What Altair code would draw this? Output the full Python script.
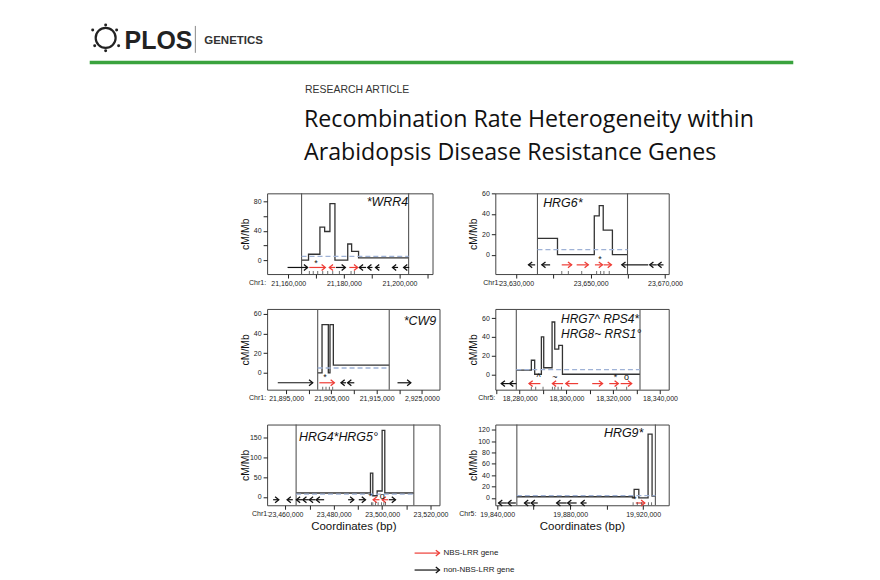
import altair as alt
import pandas as pd

FONT = "Liberation Sans"
TITLE_FONT = "Open Sans"
RED = "#ee3d36"
BLACK = "#111111"

# ---------------- data ----------------
# Panel 1 : *WRR4 (Chr1)
P1_STEP_BP = [21164800, 21167300, 21171400, 21173100, 21175000, 21176800, 21181400, 21182800, 21185300, 21203300]
P1_STEP_CM = [0, 8, 45, 39, 77, 0, 22, 12, 3, 3]
P1_MEAN = 5
P1_REGION = [21164800, 21203300]
P1_GENE_START = [21159760, 21167570, 21174770, 21177170, 21181980, 21185580, 21188600, 21191400, 21197500, 21201500]
P1_GENE_END = [21166970, 21173330, 21176930, 21180540, 21184980, 21188000, 21190300, 21192900, 21199500, 21203500]
P1_GENE_STRAND = ["+", "+", "-", "+", "+", "-", "-", "-", "-", "-"]
P1_GENE_TYPE = ["other", "NBS", "NBS", "other", "NBS", "other", "other", "other", "other", "other"]
P1_MARK_BP = [21169970]
P1_MARK_SYM = ["*"]
P1_MARKERS = [21167600, 21169000, 21170600, 21172400, 21174200, 21176000, 21178400, 21182600, 21183800]
P1_XTICKS = [21160000, 21170000, 21180000, 21190000, 21200000, 21210000]
P1_XLABELS = {21160000: "21,160,000", 21180000: "21,180,000", 21200000: "21,200,000"}
P1_YTICKS = [0, 20, 40, 60, 80]
P1_YLABELS = {0: "0", 40: "40", 80: "80"}

# Panel 2 : HRG6* (Chr1)
P2_STEP_BP = [23635730, 23641110, 23651000, 23652330, 23653400, 23655870, 23659930]
P2_STEP_CM = [16, 0, 38, 48, 24, 0, 0]
P2_MEAN = 5
P2_REGION = [23635730, 23659930]
P2_GENE_START = [23633320, 23636900, 23642250, 23646260, 23651170, 23653500, 23658400, 23665900, 23668100]
P2_GENE_END = [23635110, 23639130, 23644920, 23649390, 23653200, 23655600, 23665500, 23667800, 23669600]
P2_GENE_STRAND = ["-", "-", "+", "+", "+", "+", "-", "-", "-"]
P2_GENE_TYPE = ["other", "other", "NBS", "NBS", "NBS", "NBS", "other", "other", "other"]
P2_MARK_BP = [23652500]
P2_MARK_SYM = ["*"]
P2_MARKERS = [23642260, 23644030, 23647620, 23651630, 23652700, 23653590, 23655020]
P2_XTICKS = [23630000, 23640000, 23650000, 23660000, 23670000]
P2_XLABELS = {23630000: "23,630,000", 23650000: "23,650,000", 23670000: "23,670,000"}
P2_YTICKS = [0, 20, 40, 60]
P2_YLABELS = {0: "0", 20: "20", 40: "40", 60: "60"}

# Panel 3 : *CW9 (Chr1)
P3_STEP_BP = [21901980, 21902940, 21904330, 21904700, 21905440, 21917790]
P3_STEP_CM = [0, 49, 0, 49, 8, 8]
P3_MEAN = 5
P3_REGION = [21901980, 21917790]
P3_GENE_START = [21893160, 21902350, 21907130, 21908600, 21919620]
P3_GENE_END = [21900880, 21905660, 21908230, 21910070, 21922560]
P3_GENE_STRAND = ["+", "+", "-", "-", "+"]
P3_GENE_TYPE = ["other", "NBS", "other", "other", "other"]
P3_MARK_BP = [21903600]
P3_MARK_SYM = ["*"]
P3_MARKERS = [21903090, 21903820, 21904560, 21905290]
P3_XTICKS = [21895000, 21900000, 21905000, 21910000, 21915000, 21920000, 21925000]
P3_XLABELS = {21895000: "21,895,000", 21905000: "21,905,000", 21915000: "21,915,000", 21925000: "2,925,0000"}
P3_YTICKS = [0, 20, 40, 60]
P3_YLABELS = {0: "0", 20: "20", 40: "40", 60: "60"}

# Panel 4 : HRG7^ RPS4* HRG8~ RRS1° (Chr5)
P4_STEP_BP = [18278570, 18285000, 18286430, 18289290, 18290290, 18293860, 18295000, 18296710, 18298290, 18331430]
P4_STEP_CM = [4.5, 15, 0, 40, 7, 56, 27, 31, 0, 0]
P4_MEAN = 5
P4_REGION = [18278570, 18331430]
P4_GENE_START = [18272140, 18275710, 18284000, 18294000, 18299720, 18311010, 18318300, 18323160]
P4_GENE_END = [18275430, 18278570, 18288860, 18298570, 18305000, 18315440, 18322160, 18327870]
P4_GENE_STRAND = ["-", "-", "-", "-", "-", "+", "+", "+"]
P4_GENE_TYPE = ["other", "other", "NBS", "NBS", "NBS", "NBS", "NBS", "NBS"]
P4_MARK_BP = [18288140, 18295000, 18321000, 18325700]
P4_MARK_SYM = ["^", "~", "*", "o"]
P4_MARKERS = [18285000, 18286860, 18290000, 18294000, 18295000, 18296430, 18297860, 18321440, 18325730]
P4_XTICKS = [18270000, 18280000, 18290000, 18300000, 18310000, 18320000, 18330000, 18340000]
P4_XLABELS = {18280000: "18,280,000", 18300000: "18,300,000", 18320000: "18,320,000", 18340000: "18,340,000"}
P4_YTICKS = [0, 20, 40, 60]
P4_YLABELS = {0: "0", 20: "20", 40: "40", 60: "60"}

# Panel 5 : HRG4* HRG5° (Chr1)
P5_STEP_BP = [23464410, 23495170, 23496130, 23497920, 23499990, 23501090, 23513100]
P5_STEP_CM = [10, 60, 3, 15, 168, 10, 10]
P5_MEAN = 7
P5_REGION = [23464410, 23513100]
P5_GENE_START = [23454900, 23460690, 23464550, 23467170, 23469900, 23472700, 23485930, 23490340, 23496270, 23499990, 23502750]
P5_GENE_END = [23457240, 23463030, 23466900, 23469650, 23472400, 23476000, 23488270, 23493100, 23498890, 23502470, 23505510]
P5_GENE_STRAND = ["+", "-", "-", "-", "-", "-", "+", "+", "-", "-", "+"]
P5_GENE_TYPE = ["other", "other", "other", "other", "other", "other", "other", "other", "NBS", "NBS", "other"]
P5_MARK_BP = [23495170, 23499990]
P5_MARK_SYM = ["*", "o"]
P5_MARKERS = [23495580, 23496130, 23497230, 23498340, 23499720, 23500680, 23501370]
P5_XTICKS = [23460000, 23470000, 23480000, 23490000, 23500000, 23510000, 23520000]
P5_XLABELS = {23460000: "23,460,000", 23480000: "23,480,000", 23500000: "23,500,000", 23520000: "23,520,000"}
P5_YTICKS = [0, 50, 100, 150]
P5_YLABELS = {0: "0", 50: "50", 100: "100", 150: "150"}

# Panel 6 : HRG9* (Chr5)
P6_STEP_BP = [19850800, 19914130, 19915060, 19917620, 19922700, 19924890, 19926700]
P6_STEP_CM = [2, 0, 15, 0, 112, 3, 3]
P6_MEAN = 4
P6_REGION = [19850800, 19926700]
P6_GENE_START = [19840800, 19845880, 19855000, 19858660, 19872630, 19878640, 19885960, 19915990]
P6_GENE_END = [19845330, 19850250, 19858110, 19862260, 19878090, 19883550, 19889010, 19920900]
P6_GENE_STRAND = ["-", "-", "-", "-", "-", "-", "-", "+"]
P6_GENE_TYPE = ["other", "other", "other", "other", "other", "other", "other", "NBS"]
P6_MARK_BP = [19915440]
P6_MARK_SYM = ["*"]
P6_MARKERS = [19914500, 19916800, 19919200, 19922900, 19924600]
P6_XTICKS = [19840000, 19860000, 19880000, 19900000, 19920000]
P6_XLABELS = {19840000: "19,840,000", 19880000: "19,880,000", 19920000: "19,920,000"}
P6_YTICKS = [0, 20, 40, 60, 80, 100, 120]
P6_YLABELS = {0: "0", 20: "20", 40: "40", 60: "60", 80: "80", 100: "100", 120: "120"}

LEGEND_LABELS = ["NBS-LRR gene", "non-NBS-LRR gene"]

# ---------------- layout / style ----------------
LAYOUT = [
    dict(xdom=[21152400, 21211900], ydom=[-19, 91], gy=-10, my=-3.5, chr="Chr1:", chr_dx=-1,
         labels=[("*WRR4", 100, 9)], fs=12.5, xtitle=None, w=166, h=81),
    dict(xdom=[23624400, 23671000], ydom=[-19, 60], gy=-10, my=-4, chr="Chr1:", chr_dx=5,
         labels=[("HRG6*", 48, 10)], fs=12.5, xtitle=None, w=174, h=81),
    dict(xdom=[21890800, 21928900], ydom=[-17, 65], gy=-10, my=-4, chr="Chr1:", chr_dx=-1,
         labels=[("*CW9", 137, 12)], fs=12.5, xtitle=None, w=173, h=81),
    dict(xdom=[18269600, 18343700], ydom=[-16.5, 70], gy=-10, my=-3, chr="Chr5:", chr_dx=0,
         labels=[("HRG7^ RPS4*", 66, 10), ("HRG8~ RRS1°", 66, 25)], fs=12, xtitle=None, w=174, h=81),
    dict(xdom=[23452410, 23523720], ydom=[-21, 183], gy=-7, my=2, chr="Chr1:", chr_dx=2,
         labels=[("HRG4*HRG5°", 32, 13)], fs=12.5, xtitle="Coordinates (bp)", w=173, h=81),
    dict(xdom=[19839000, 19934000], ydom=[-13, 129], gy=-9, my=-2, chr="Chr5:", chr_dx=-19,
         labels=[("HRG9*", 109, 8)], fs=12.5, xtitle="Coordinates (bp)", w=174, h=81),
]

DATA = [
    dict(step_bp=P1_STEP_BP, step_cm=P1_STEP_CM, mean=P1_MEAN, region=P1_REGION, gs=P1_GENE_START, ge=P1_GENE_END,
         gst=P1_GENE_STRAND, gt=P1_GENE_TYPE, mbp=P1_MARK_BP, msym=P1_MARK_SYM, rug=P1_MARKERS,
         xt=P1_XTICKS, xl=P1_XLABELS, yt=P1_YTICKS, yl=P1_YLABELS),
    dict(step_bp=P2_STEP_BP, step_cm=P2_STEP_CM, mean=P2_MEAN, region=P2_REGION, gs=P2_GENE_START, ge=P2_GENE_END,
         gst=P2_GENE_STRAND, gt=P2_GENE_TYPE, mbp=P2_MARK_BP, msym=P2_MARK_SYM, rug=P2_MARKERS,
         xt=P2_XTICKS, xl=P2_XLABELS, yt=P2_YTICKS, yl=P2_YLABELS),
    dict(step_bp=P3_STEP_BP, step_cm=P3_STEP_CM, mean=P3_MEAN, region=P3_REGION, gs=P3_GENE_START, ge=P3_GENE_END,
         gst=P3_GENE_STRAND, gt=P3_GENE_TYPE, mbp=P3_MARK_BP, msym=P3_MARK_SYM, rug=P3_MARKERS,
         xt=P3_XTICKS, xl=P3_XLABELS, yt=P3_YTICKS, yl=P3_YLABELS),
    dict(step_bp=P4_STEP_BP, step_cm=P4_STEP_CM, mean=P4_MEAN, region=P4_REGION, gs=P4_GENE_START, ge=P4_GENE_END,
         gst=P4_GENE_STRAND, gt=P4_GENE_TYPE, mbp=P4_MARK_BP, msym=P4_MARK_SYM, rug=P4_MARKERS,
         xt=P4_XTICKS, xl=P4_XLABELS, yt=P4_YTICKS, yl=P4_YLABELS),
    dict(step_bp=P5_STEP_BP, step_cm=P5_STEP_CM, mean=P5_MEAN, region=P5_REGION, gs=P5_GENE_START, ge=P5_GENE_END,
         gst=P5_GENE_STRAND, gt=P5_GENE_TYPE, mbp=P5_MARK_BP, msym=P5_MARK_SYM, rug=P5_MARKERS,
         xt=P5_XTICKS, xl=P5_XLABELS, yt=P5_YTICKS, yl=P5_YLABELS),
    dict(step_bp=P6_STEP_BP, step_cm=P6_STEP_CM, mean=P6_MEAN, region=P6_REGION, gs=P6_GENE_START, ge=P6_GENE_END,
         gst=P6_GENE_STRAND, gt=P6_GENE_TYPE, mbp=P6_MARK_BP, msym=P6_MARK_SYM, rug=P6_MARKERS,
         xt=P6_XTICKS, xl=P6_XLABELS, yt=P6_YTICKS, yl=P6_YLABELS),
]

RIGHT_HEAD = "M-1,-0.8L0,0L-1,0.8"
LEFT_HEAD = "M1,-0.8L0,0L1,0.8"
COLOR = alt.Color("type:N", scale=alt.Scale(domain=["NBS", "other"], range=[RED, BLACK]), legend=None)
SHAPE = alt.Shape("strand:N", scale=alt.Scale(domain=["+", "-"], range=[RIGHT_HEAD, LEFT_HEAD]), legend=None)
NOSTROKE = alt.ViewBackground(strokeWidth=0)


def label_expr(d):
    e = "''"
    for v, t in d.items():
        e = f"datum.value == {v} ? '{t}' : ({e})"
    return e


def one(**kw):
    return pd.DataFrame({k: [v] for k, v in kw.items()})


def build_panel(d, L):
    W, H = L["w"], L["h"]
    xs = alt.Scale(domain=L["xdom"], nice=False, zero=False)
    ys = alt.Scale(domain=L["ydom"], nice=False, zero=False)
    xaxis = alt.Axis(values=d["xt"], labelExpr=label_expr(d["xl"]), tickSize=4, labelPadding=1,
                     labelFontSize=7, domain=False, grid=False, labelFlush=False, labelOverlap=False,
                     tickColor="#222", labelColor="#222", titleFontSize=11.5, titleFontWeight="normal",
                     titlePadding=3, titleColor="#111")
    yaxis = alt.Axis(values=d["yt"], labelExpr=label_expr(d["yl"]), tickSize=4, labelPadding=2,
                     labelFontSize=7, domain=False, grid=False, labelFlush=False, labelOverlap=False,
                     tickColor="#222", labelColor="#222", titleFontSize=10.5, titleFontWeight="normal",
                     titleColor="#111", titleX=-22, titleY=H / 2, titleBaseline="middle", titleAlign="center")
    X = alt.X("x:Q", scale=xs, axis=xaxis, title=L["xtitle"])
    Y = alt.Y("y:Q", scale=ys, axis=yaxis, title="cM/Mb")

    steps = pd.DataFrame({"x": d["step_bp"], "y": d["step_cm"]})
    bounds = pd.DataFrame({"x": d["region"]})
    mean = one(x=d["region"][0], x2=d["region"][1], y=d["mean"])
    genes = pd.DataFrame({"x": d["gs"], "x2": d["ge"], "strand": d["gst"], "type": d["gt"]})
    genes["y"] = L["gy"]
    heads = pd.DataFrame({"x": [e if s == "+" else b for b, e, s in zip(d["gs"], d["ge"], d["gst"])],
                          "strand": d["gst"], "type": d["gt"]})
    heads["y"] = L["gy"]
    marks = pd.DataFrame({"x": d["mbp"], "t": d["msym"]})
    marks["y"] = L["my"]
    rug = pd.DataFrame({"x": d["rug"]})

    layers = [
        alt.Chart(steps).mark_line(interpolate="step-after", color="#333", strokeWidth=1.3).encode(x=X, y=Y),
        alt.Chart(bounds).mark_rule(color="#555", strokeWidth=1.1).encode(x=X),
        alt.Chart(mean).mark_rule(strokeDash=[5, 3], color="#9fb2d6", strokeWidth=1.3).encode(x=X, x2="x2:Q", y=Y),
        alt.Chart(genes).mark_rule(strokeWidth=1.2).encode(x=X, x2="x2:Q", y=Y, color=COLOR),
        alt.Chart(heads).mark_point(size=55, strokeWidth=1.3, opacity=1, filled=False).encode(
            x=X, y=Y, color=COLOR, shape=SHAPE),
        alt.Chart(marks).mark_text(fontSize=9, color="#111", baseline="middle").encode(x=X, y=Y, text="t:N"),
        alt.Chart(rug).mark_tick(orient="vertical", size=3, thickness=1, color="#333").encode(
            x=X, y=alt.value(H - 1.5)),
        alt.Chart(one(t=L["chr"])).mark_text(align="right", baseline="top", fontSize=7, color="#222").encode(
            x=alt.value(L["chr_dx"]), y=alt.value(H + 4.5), text="t:N"),
    ]
    for (txt, px, py) in L["labels"]:
        layers.append(alt.Chart(one(t=txt)).mark_text(align="left", baseline="middle", fontSize=L["fs"],
                                                      fontStyle="italic", color="#111").encode(
            x=alt.value(px), y=alt.value(py), text="t:N"))
    return alt.layer(*layers).properties(width=W, height=H,
                                         view=alt.ViewBackground(stroke="#444", strokeWidth=1))


def vtext(text, x, y, size, font=FONT, weight="normal", color="#111", align="left", baseline="middle"):
    return alt.Chart(one(t=text)).mark_text(align=align, baseline=baseline, font=font, fontSize=size,
                                            fontWeight=weight, color=color).encode(
        x=alt.value(x), y=alt.value(y), text="t:N")


# ---------------- header ----------------
logo_dots = pd.DataFrame({"px": [82, 84, 95, 106, 108, 95], "py": [21, 37, 16, 21, 37, 42]})
header = alt.layer(
    alt.Chart(one(a=0)).mark_point(shape="circle", size=400, filled=False, color="#222", strokeWidth=2.2,
                                   opacity=1).encode(x=alt.value(95), y=alt.value(29)),
    alt.Chart(logo_dots).mark_point(shape="circle", size=9, filled=True, color="#222", opacity=1).encode(
        x=alt.X("px:Q", scale=None), y=alt.Y("py:Q", scale=None)),
    vtext("PLOS", 114, 40, 25, weight="bold", color="#222", baseline="alphabetic"),
    alt.Chart(one(a=0)).mark_rule(color="#888", strokeWidth=1).encode(
        x=alt.value(185), y=alt.value(17), y2=alt.value(44)),
    vtext("GENETICS", 194, 35.3, 11.5, weight="bold", color="#333", baseline="alphabetic"),
    alt.Chart(one(a=0)).mark_rule(color="#3aa33e", strokeWidth=3.5).encode(
        x=alt.value(79), x2=alt.value(785), y=alt.value(53.7)),
    vtext("RESEARCH ARTICLE", 295, 81, 10.5, color="#333"),
    vtext("Recombination Rate Heterogeneity within", 294, 118, 23.3, font=TITLE_FONT, baseline="alphabetic"),
    vtext("Arabidopsis Disease Resistance Genes", 294, 152, 23.3, font=TITLE_FONT, baseline="alphabetic"),
).properties(width=864, height=180, view=NOSTROKE)

# ---------------- panels ----------------
panels = [build_panel(d, L) for d, L in zip(DATA, LAYOUT)]
grid = alt.concat(*panels, columns=2, spacing={"row": 20, "column": 10}, align="each")

spacer = alt.Chart(one(a=0)).mark_point(opacity=0).encode(x=alt.value(0), y=alt.value(0)).properties(
    width=229, height=10, view=NOSTROKE)
middle = alt.hconcat(spacer, grid, spacing=0)

# ---------------- legend ----------------
leg_df = pd.DataFrame({"type": ["NBS", "other"], "label": LEGEND_LABELS})
leg_y = alt.Y("type:N", scale=alt.Scale(type="point", domain=["NBS", "other"], range=[21, 38], padding=0),
              axis=None)
legend = alt.layer(
    alt.Chart(leg_df).mark_rule(strokeWidth=1.2).encode(x=alt.value(405), x2=alt.value(430), y=leg_y,
                                                         color=COLOR),
    alt.Chart(leg_df).mark_point(shape=RIGHT_HEAD, size=55, strokeWidth=1.3, opacity=1, filled=False).encode(
        x=alt.value(430), y=leg_y, color=COLOR),
    alt.Chart(leg_df).mark_text(align="left", baseline="middle", fontSize=8, color="#222").encode(
        x=alt.value(434), y=leg_y, text="label:N"),
).properties(width=864, height=38, view=NOSTROKE)

chart = alt.vconcat(header, middle, legend, spacing=0).properties(padding=0).configure(
    font=FONT).configure_view(strokeWidth=0)

chart.save("out.html", embed_options={"renderer": "svg", "actions": False})
